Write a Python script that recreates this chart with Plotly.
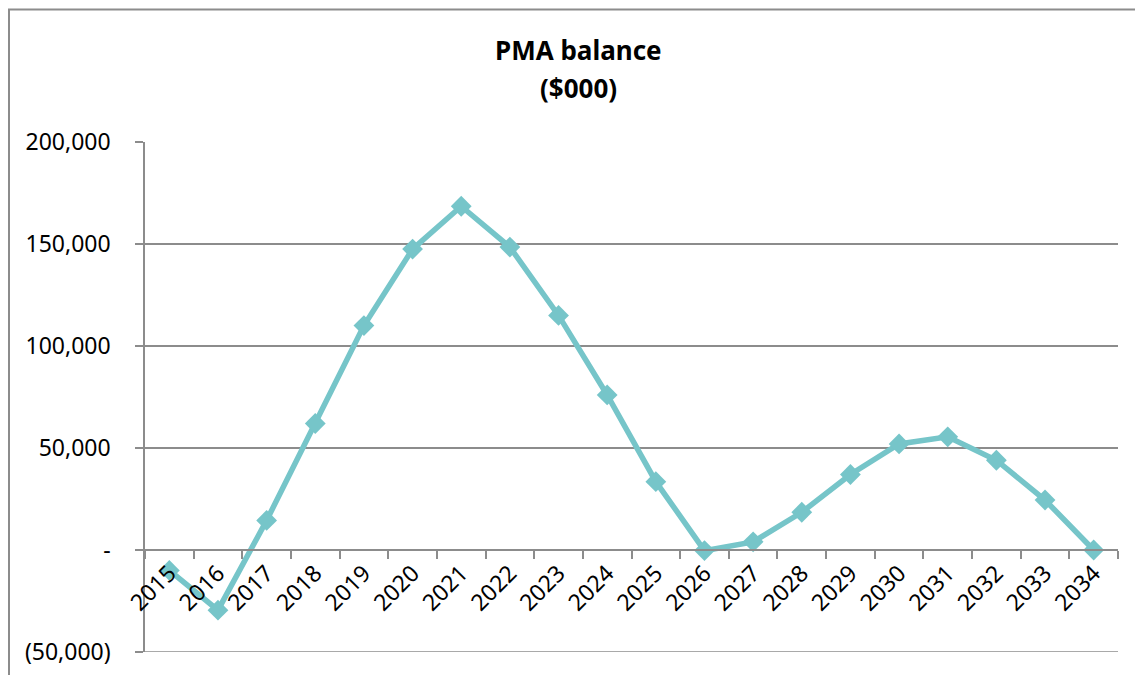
import plotly.graph_objects as go

years = [str(y) for y in range(2015, 2035)]
balance = [-10000, -29500, 14500, 62000, 110000, 147500, 168500, 148500, 115000, 76000,
           33500, -300, 4000, 18500, 37000, 52000, 55500, 44000, 24500, 0]
y_tickvals = [-50000, 0, 50000, 100000, 150000, 200000]
y_ticktext = ["(50,000)", "-", "50,000", "100,000", "150,000", "200,000"]

FONT = "Noto Sans"
GRID = "#8c8c8c"
LINE = "#76C5C9"

# page body has an 8px margin: offset the margins so the plot lands where the reference has it
W, H = 1143, 675
PL, PT, PR, PB = 145, 142, 1118, 652   # plot area in window pixels
OFF = 8

fig = go.Figure()
fig.add_trace(go.Scatter(
    x=years, y=balance, mode="lines+markers",
    line=dict(color=LINE, width=5.5),
    marker=dict(symbol="diamond", size=16, color=LINE),
    showlegend=False,
))

def px_to_paper_x(x):
    return (x - PL) / (PR - PL)

def px_to_paper_y(y):
    return (PB - y) / (PB - PT)

fig.update_layout(
    width=W, height=H,
    margin=dict(l=PL - OFF, r=W - (PR - OFF), t=PT - OFF, b=H - (PB - OFF)),
    paper_bgcolor="white", plot_bgcolor="white",
    font=dict(family=FONT, size=23, color="black"),
    xaxis=dict(
        type="category", range=[-0.5, 19.5],
        anchor="free", position=0.2,
        showgrid=False, showline=True, linecolor=GRID, linewidth=1.5,
        ticks="outside", tickson="boundaries", ticklen=8, tickcolor=GRID, tickwidth=1.5,
        tickangle=-45, tickfont=dict(family=FONT, size=23),
        zeroline=False,
    ),
    yaxis=dict(
        range=[-50000, 200000], tickvals=y_tickvals, ticktext=y_ticktext,
        showgrid=True, gridcolor=GRID, gridwidth=1.5,
        showline=True, linecolor=GRID, linewidth=1.5,
        ticks="outside", ticklen=8, tickcolor=GRID, tickwidth=1.5,
        ticklabelstandoff=20, ticklabeloverflow="allow",
        zeroline=False, tickfont=dict(family=FONT, size=23),
    ),
    annotations=[
        dict(text="<b>PMA balance</b>", xref="paper", yref="paper",
             x=px_to_paper_x(578), y=px_to_paper_y(50), xanchor="center", yanchor="middle",
             showarrow=False, font=dict(family=FONT, size=26, color="black")),
        dict(text="<b>($000)</b>", xref="paper", yref="paper",
             x=px_to_paper_x(578), y=px_to_paper_y(88), xanchor="center", yanchor="middle",
             showarrow=False, font=dict(family=FONT, size=26, color="black")),
    ],
    shapes=[
        dict(type="rect", xref="paper", yref="paper",
             x0=px_to_paper_x(9), x1=1.2, y0=-0.3, y1=px_to_paper_y(9.5),
             line=dict(color="#8c8c8c", width=2), fillcolor="rgba(0,0,0,0)", layer="below"),
        dict(type="line", xref="paper", yref="y", x0=0, x1=1,
             y0=y_tickvals[0], y1=y_tickvals[0],
             line=dict(color=GRID, width=1.5), layer="below"),
    ],
)

fig.write_html("out.html")
